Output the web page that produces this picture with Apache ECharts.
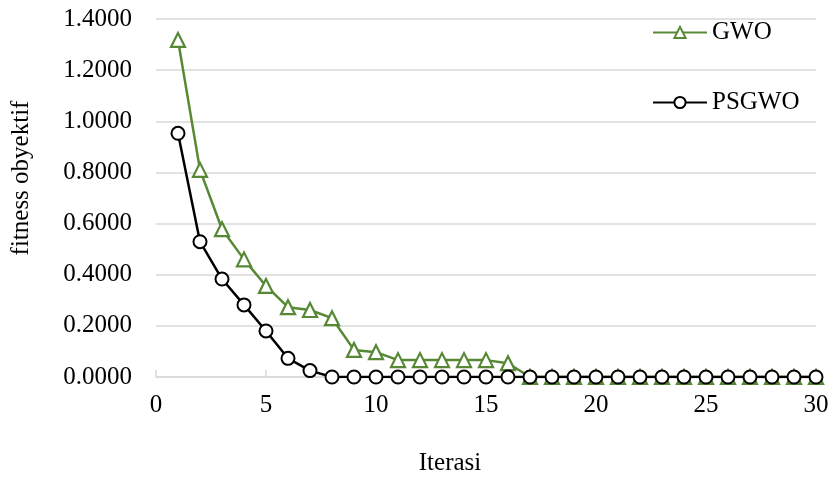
<!DOCTYPE html>
<html><head><meta charset="utf-8">
<script src="https://cdn.jsdelivr.net/npm/echarts@6/dist/echarts.min.js"></script>
<style>html,body{margin:0;padding:0;background:#fff}#c{width:830px;height:478px}</style>
</head><body><div id="c"></div>
<script>
const iterations = [1,2,3,4,5,6,7,8,9,10,11,12,13,14,15,16,17,18,19,20,21,22,23,24,25,26,27,28,29,30];
const gwo = [1.318,0.810,0.578,0.460,0.356,0.273,0.262,0.230,0.106,0.097,0.066,0.066,0.066,0.066,0.066,0.054,0,0,0,0,0,0,0,0,0,0,0,0,0,0];
const psgwo = [0.953,0.529,0.383,0.282,0.180,0.073,0.025,0,0,0,0,0,0,0,0,0,0,0,0,0,0,0,0,0,0,0,0,0,0,0];
const xTicks = [0,5,10,15,20,25,30];
const xTitle = 'Iterasi';
const yTitle = 'fitness obyektif';
const font = 'Liberation Serif';
const chart = echarts.init(document.getElementById('c'));
chart.setOption({
  animation:false,
  textStyle:{fontFamily:font},
  grid:{left:156,right:14,top:19,bottom:101,outerBoundsMode:'none',containLabel:false},
  legend:{
    orient:'vertical', left:647, top:15, itemGap:45, itemWidth:54, itemHeight:14,
    textStyle:{fontFamily:font,fontSize:25,color:'#000'},
    data:['GWO','PSGWO']
  },
  graphic:[
    {type:'text',x:450,y:463,style:{text:xTitle,font:'25px "Liberation Serif"',fill:'#000',align:'center',verticalAlign:'middle'}},
    {type:'text',x:21,y:178,rotation:Math.PI/2,style:{text:yTitle,font:'25px "Liberation Serif"',fill:'#000',align:'center',verticalAlign:'middle'}}
  ],
  xAxis:{
    type:'value', min:0, max:30, interval:5,
    axisLine:{lineStyle:{color:'#d9d9d9',width:1.5}},
    axisTick:{inside:true,length:7,lineStyle:{color:'#d9d9d9',width:1.5}},
    axisLabel:{fontFamily:font,fontSize:25,color:'#000',margin:16,
      formatter:v=>xTicks.includes(v)?String(v):''},
    splitLine:{show:false}
  },
  yAxis:{
    type:'value', min:0, max:1.4, interval:0.2,
    axisLine:{show:false}, axisTick:{show:false},
    axisLabel:{fontFamily:font,fontSize:25,color:'#000',margin:24,formatter:v=>v.toFixed(4)},
    splitLine:{lineStyle:{color:'#d9d9d9',width:1.5}}
  },
  series:[
    {name:'GWO',type:'line',data:iterations.map((x,i)=>[x,gwo[i]]),
     symbol:'triangle',symbolSize:14,
     lineStyle:{color:'#578835',width:2.5},
     itemStyle:{color:'#fff',borderColor:'#578835',borderWidth:2.2},
     color:'#578835', z:2},
    {name:'PSGWO',type:'line',data:iterations.map((x,i)=>[x,psgwo[i]]),
     symbol:'circle',symbolSize:13,
     lineStyle:{color:'#000',width:2.5},
     itemStyle:{color:'#fff',borderColor:'#000',borderWidth:2},
     color:'#000', z:3}
  ]
});
</script></body></html>
